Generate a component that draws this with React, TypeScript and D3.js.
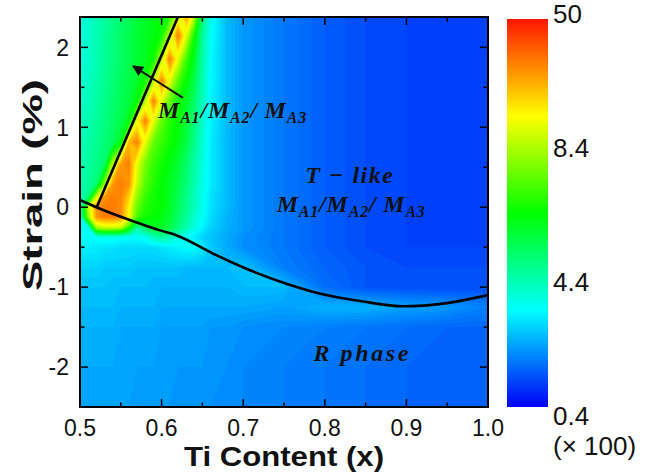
import { useEffect, useRef } from 'react';
import * as d3 from 'd3';

// Ti content of the measured grid columns (x)
const tiGrid = [ 0.50, 0.51, 0.52, 0.53, 0.54, 0.55, 0.56, 0.57, 0.58, 0.59, 0.60, 0.61, 0.62, 0.63, 0.64, 0.65, 0.66, 0.68, 0.70, 0.75, 0.80, 0.85, 0.90, 0.95, 1.00 ];

// strain (%) of the grid rows, bottom to top
const strainGrid = [ -2.5, -2.0, -1.5, -1.25, -1.0, -0.75, -0.5, -0.375, -0.25, -0.125, 0, 0.125, 0.29, 0.54, 0.81, 1.08, 1.33, 1.58, 1.85, 2.15, 2.45 ];

// intensity (x 100), one row per strain value
const intensity = [
  [ 2.3, 2.3, 2.3, 2.3, 2.3, 2.3, 2.3, 2.2, 2.2, 2.2, 2.2, 2.2, 2.1, 2.1, 2.1, 2.1, 2.1, 2.0, 2.0, 1.9, 1.8, 1.7, 1.6, 1.5, 1.5 ],
  [ 2.4, 2.4, 2.4, 2.4, 2.4, 2.3, 2.3, 2.3, 2.3, 2.3, 2.2, 2.2, 2.2, 2.2, 2.2, 2.2, 2.1, 2.1, 2.0, 1.9, 1.8, 1.7, 1.6, 1.5, 1.5 ],
  [ 2.5, 2.5, 2.5, 2.5, 2.5, 2.4, 2.4, 2.4, 2.4, 2.4, 2.3, 2.3, 2.3, 2.3, 2.3, 2.3, 2.2, 2.2, 2.1, 2.0, 1.9, 1.8, 1.7, 1.6, 1.6 ],
  [ 2.6, 2.6, 2.6, 2.6, 2.6, 2.5, 2.5, 2.5, 2.5, 2.5, 2.4, 2.4, 2.4, 2.4, 2.4, 2.4, 2.4, 2.4, 2.4, 2.3, 2.5, 2.5, 2.3, 2.2, 1.9 ],
  [ 2.7, 2.7, 2.7, 2.7, 2.6, 2.6, 2.6, 2.6, 2.6, 2.5, 2.5, 2.5, 2.5, 2.5, 2.5, 2.5, 2.5, 2.5, 2.6, 2.6, 1.7, 1.4, 1.3, 1.3, 1.3 ],
  [ 2.9, 2.9, 2.9, 2.8, 2.8, 2.8, 2.8, 2.7, 2.7, 2.7, 2.7, 2.7, 2.7, 2.6, 2.6, 2.6, 2.6, 2.6, 2.7, 1.9, 1.6, 1.4, 1.3, 1.3, 1.3 ],
  [ 3.2, 3.2, 3.2, 3.1, 3.1, 3.0, 3.0, 3.0, 3.0, 3.0, 3.1, 3.2, 3.3, 3.4, 3.4, 3.2, 2.8, 2.4, 2.1, 1.8, 1.5, 1.3, 1.2, 1.2, 1.2 ],
  [ 3.4, 3.4, 3.5, 3.6, 3.6, 3.5, 3.4, 3.4, 3.6, 4.2, 4.6, 4.2, 3.8, 3.5, 3.2, 2.9, 2.7, 2.4, 2.1, 1.8, 1.5, 1.3, 1.2, 1.2, 1.2 ],
  [ 3.4, 3.6, 8.4, 14, 14, 12, 7.0, 4.6, 5.4, 6.0, 6.0, 5.6, 5.0, 4.4, 3.8, 3.3, 2.9, 2.5, 2.2, 1.8, 1.5, 1.3, 1.2, 1.2, 1.2 ],
  [ 3.5, 8.0, 33, 36, 36, 34, 18, 7.2, 6.6, 6.4, 6.2, 5.8, 5.2, 4.6, 4.0, 3.5, 3.0, 2.5, 2.2, 1.8, 1.5, 1.3, 1.2, 1.2, 1.2 ],
  [ 3.8, 10, 33, 36, 36, 35, 20, 7.6, 6.8, 6.6, 6.4, 6.0, 5.4, 4.8, 4.2, 3.6, 3.1, 2.6, 2.2, 1.8, 1.5, 1.3, 1.2, 1.2, 1.2 ],
  [ 4.1, 5.0, 14, 33, 36, 35, 25, 8.0, 7.0, 6.6, 6.4, 6.0, 5.4, 4.8, 4.2, 3.6, 3.1, 2.6, 2.2, 1.8, 1.5, 1.3, 1.2, 1.2, 1.2 ],
  [ 4.3, 4.6, 5.0, 8.0, 32, 36, 33, 12, 7.4, 6.8, 6.4, 6.0, 5.6, 5.0, 4.4, 3.7, 3.2, 2.6, 2.2, 1.8, 1.5, 1.3, 1.2, 1.2, 1.2 ],
  [ 4.3, 4.5, 4.8, 5.2, 9.0, 32, 36, 16, 7.8, 7.0, 6.6, 6.2, 5.8, 5.2, 4.5, 3.8, 3.2, 2.6, 2.2, 1.8, 1.5, 1.3, 1.2, 1.2, 1.2 ],
  [ 4.2, 4.4, 4.7, 5.0, 5.3, 6.2, 28, 36, 16, 7.6, 7.0, 6.6, 6.2, 5.6, 4.8, 3.9, 3.2, 2.6, 2.2, 1.8, 1.5, 1.3, 1.2, 1.2, 1.2 ],
  [ 4.1, 4.3, 4.6, 4.9, 5.2, 5.5, 6.2, 18, 36, 16, 7.6, 6.8, 6.4, 5.8, 5.0, 4.0, 3.3, 2.6, 2.2, 1.8, 1.5, 1.3, 1.2, 1.2, 1.2 ],
  [ 4.0, 4.2, 4.5, 4.8, 5.1, 5.4, 5.7, 6.4, 10, 36, 16, 7.6, 6.6, 6.0, 5.2, 4.2, 3.3, 2.6, 2.2, 1.8, 1.5, 1.3, 1.2, 1.2, 1.2 ],
  [ 3.9, 4.1, 4.4, 4.7, 5.0, 5.3, 5.6, 5.9, 6.6, 10, 36, 16, 7.4, 6.4, 5.6, 4.3, 3.4, 2.6, 2.2, 1.8, 1.5, 1.3, 1.2, 1.2, 1.2 ],
  [ 3.8, 4.0, 4.3, 4.6, 4.9, 5.2, 5.5, 5.8, 6.0, 6.6, 10, 36, 16, 7.2, 6.0, 4.4, 3.4, 2.6, 2.2, 1.8, 1.5, 1.3, 1.2, 1.2, 1.2 ],
  [ 3.8, 4.0, 4.3, 4.6, 4.9, 5.2, 5.5, 5.8, 6.0, 6.2, 6.6, 10, 36, 16, 6.6, 4.6, 3.5, 2.6, 2.2, 1.8, 1.5, 1.3, 1.2, 1.2, 1.2 ],
  [ 3.8, 4.0, 4.2, 4.5, 4.8, 5.1, 5.4, 5.7, 5.9, 6.1, 6.3, 6.5, 10, 36, 16, 5.2, 3.6, 2.6, 2.2, 1.8, 1.5, 1.3, 1.2, 1.2, 1.2 ],
];

// phase boundaries (Ti content, strain %)
const mBoundary = [ [ 0.5205, 0.0 ], [ 0.62, 2.38 ] ];
const rBoundary = [
  [ 0.50, 0.09 ], [ 0.52, 0.0 ], [ 0.561, -0.16 ], [ 0.598, -0.29 ], [ 0.618, -0.35 ],
  [ 0.663, -0.58 ], [ 0.704, -0.77 ], [ 0.745, -0.93 ], [ 0.786, -1.06 ], [ 0.847, -1.18 ],
  [ 0.896, -1.24 ], [ 0.949, -1.20 ], [ 1.00, -1.10 ],
];

const xTicks = [ 0.5, 0.6, 0.7, 0.8, 0.9, 1.0 ];
const xMinor = [ 0.55, 0.65, 0.75, 0.85, 0.95 ];
const yTicks = [ -2, -1, 0, 1, 2 ];
const yMinor = [ -1.5, -0.5, 0.5, 1.5 ];
const colorTicks = [ 0.4, 4.4, 8.4, 50 ];

const SANS = '"Liberation Sans", Arial, sans-serif';
const SERIF = '"Liberation Serif", "Times New Roman", serif';

export default function App() {
  const svgRef = useRef<SVGSVGElement>( null );

  useEffect( () => {
    if ( !svgRef.current ) return;
    const svg = d3.select( svgRef.current );
    svg.selectAll( '*' ).remove();

    const x = d3.scaleLinear().domain( [ 0.5, 1.0 ] ).range( [ 80, 488 ] );
    const y = d3.scaleLinear().domain( [ -2.5, 2.38 ] ).range( [ 407, 17 ] );

    // colour bar mapping: labels are evenly spaced on the bar
    const norm = d3.scaleLinear().domain( colorTicks ).range( [ 0, 1 / 3, 2 / 3, 1 ] ).clamp( true );
    const rainbow = d3.scaleLinear<string>()
      .domain( [ 0, 0.25, 0.5, 0.75, 1 ] )
      .range( [ '#0000f8', '#00ffff', '#00ff00', '#ffff00', '#ff1500' ] )
      .interpolate( d3.interpolateRgb );

    const defs = svg.append( 'defs' );
    defs.append( 'clipPath' ).attr( 'id', 'plot-clip' )
      .append( 'rect' ).attr( 'x', 80 ).attr( 'y', 17 ).attr( 'width', 408 ).attr( 'height', 390 );

    const grad = defs.append( 'linearGradient' ).attr( 'id', 'cbar' )
      .attr( 'x1', 0 ).attr( 'y1', 1 ).attr( 'x2', 0 ).attr( 'y2', 0 );
    d3.range( 0, 1.0001, 0.05 ).forEach( t => {
      grad.append( 'stop' ).attr( 'offset', t ).attr( 'stop-color', rainbow( t ) );
    } );

    defs.append( 'marker' ).attr( 'id', 'arrow' )
      .attr( 'viewBox', '0 0 10 10' ).attr( 'refX', 9 ).attr( 'refY', 5 )
      .attr( 'markerUnits', 'userSpaceOnUse' )
      .attr( 'markerWidth', 13 ).attr( 'markerHeight', 11 ).attr( 'orient', 'auto' )
      .append( 'path' ).attr( 'd', 'M0,0L10,5L0,10z' ).attr( 'fill', '#111' );

    // heat map as filled contour bands
    const nx = tiGrid.length;
    const ny = strainGrid.length;
    const values = intensity.flat().map( v => norm( v ) );
    const step = 1 / 120;
    const contours = d3.contours().size( [ nx, ny ] ).thresholds( d3.range( 0, 1, step ) )( values );
    const gx = d3.scaleLinear().domain( d3.range( nx ) ).range( tiGrid );
    const gy = d3.scaleLinear().domain( d3.range( ny ) ).range( strainGrid );
    const path = d3.geoPath( d3.geoTransform( {
      point( cx: number, cy: number ) {
        ( this as any ).stream.point( x( gx( cx - 0.5 ) ), y( gy( cy - 0.5 ) ) );
      },
    } ) );

    const plot = svg.append( 'g' ).attr( 'clip-path', 'url(#plot-clip)' );
    plot.selectAll( 'path.band' )
      .data( contours )
      .join( 'path' )
      .attr( 'class', 'band' )
      .attr( 'd', d => path( d as any ) )
      .attr( 'fill', d => rainbow( Math.min( 1, d.value + step / 2 ) ) );

    // phase boundaries
    const line = d3.line<number[]>().x( d => x( d[ 0 ] ) ).y( d => y( d[ 1 ] ) );
    plot.append( 'path' ).attr( 'd', line( mBoundary ) )
      .attr( 'fill', 'none' ).attr( 'stroke', '#000' ).attr( 'stroke-width', 2.6 );
    plot.append( 'path' ).attr( 'd', line.curve( d3.curveMonotoneX )( rBoundary ) )
      .attr( 'fill', 'none' ).attr( 'stroke', '#000' ).attr( 'stroke-width', 2.6 );

    // frame and inward ticks on all sides
    const axes = svg.append( 'g' ).attr( 'stroke', '#000' );
    axes.append( 'rect' ).attr( 'x', 80 ).attr( 'y', 17 ).attr( 'width', 408 ).attr( 'height', 390 )
      .attr( 'fill', 'none' ).attr( 'stroke-width', 2 );
    const xt = [ ...xTicks.map( v => [ v, 8 ] ), ...xMinor.map( v => [ v, 4.5 ] ) ];
    const yt = [ ...yTicks.map( v => [ v, 8 ] ), ...yMinor.map( v => [ v, 4.5 ] ) ];
    xt.forEach( ( [ v, len ] ) => {
      axes.append( 'line' ).attr( 'x1', x( v ) ).attr( 'x2', x( v ) ).attr( 'y1', 407 ).attr( 'y2', 407 - len ).attr( 'stroke-width', 1.5 );
      axes.append( 'line' ).attr( 'x1', x( v ) ).attr( 'x2', x( v ) ).attr( 'y1', 17 ).attr( 'y2', 17 + len ).attr( 'stroke-width', 1.5 );
    } );
    yt.forEach( ( [ v, len ] ) => {
      axes.append( 'line' ).attr( 'y1', y( v ) ).attr( 'y2', y( v ) ).attr( 'x1', 80 ).attr( 'x2', 80 + len ).attr( 'stroke-width', 1.5 );
      axes.append( 'line' ).attr( 'y1', y( v ) ).attr( 'y2', y( v ) ).attr( 'x1', 488 ).attr( 'x2', 488 - len ).attr( 'stroke-width', 1.5 );
    } );

    const labels = svg.append( 'g' ).attr( 'font-family', SANS ).attr( 'fill', '#111' );
    labels.selectAll( 'text.xt' ).data( xTicks ).join( 'text' )
      .attr( 'x', d => x( d ) ).attr( 'y', 436 ).attr( 'text-anchor', 'middle' )
      .attr( 'font-size', 23 ).text( d => d.toFixed( 1 ) );
    labels.selectAll( 'text.yt' ).data( yTicks ).join( 'text' )
      .attr( 'x', 69 ).attr( 'y', d => y( d ) ).attr( 'dy', '0.36em' ).attr( 'text-anchor', 'end' )
      .attr( 'font-size', 23 ).text( d => String( d ) );

    labels.append( 'text' ).attr( 'x', 284 ).attr( 'y', 466 ).attr( 'text-anchor', 'middle' )
      .attr( 'font-size', 27 ).attr( 'font-weight', 'bold' )
      .attr( 'textLength', 200 ).attr( 'lengthAdjust', 'spacingAndGlyphs' )
      .text( 'Ti Content (x)' );
    labels.append( 'text' ).attr( 'transform', 'translate(42,185) rotate(-90)' ).attr( 'text-anchor', 'middle' )
      .attr( 'font-size', 28 ).attr( 'font-weight', 'bold' )
      .attr( 'textLength', 212 ).attr( 'lengthAdjust', 'spacingAndGlyphs' )
      .text( 'Strain (%)' );

    // colour bar
    svg.append( 'rect' ).attr( 'x', 507 ).attr( 'y', 19 ).attr( 'width', 41 ).attr( 'height', 388 )
      .attr( 'fill', 'url(#cbar)' );
    const cbLabel = d3.scaleLinear().domain( [ 0, 1 ] ).range( [ 416, 14 ] );
    labels.selectAll( 'text.cb' ).data( colorTicks ).join( 'text' )
      .attr( 'x', 553 ).attr( 'y', d => cbLabel( norm( d ) ) ).attr( 'dy', '0.36em' )
      .attr( 'font-size', 26 ).text( d => String( d ) );
    labels.append( 'text' ).attr( 'x', 553 ).attr( 'y', 455 ).attr( 'font-size', 26 ).text( '(\u00d7 100)' );

    // phase annotations
    const notes = svg.append( 'g' ).attr( 'font-family', SERIF ).attr( 'font-weight', 'bold' )
      .attr( 'font-style', 'italic' ).attr( 'fill', '#111' );
    const phaseLabel = ( tx: number, ty: number ) => {
      const t = notes.append( 'text' ).attr( 'x', x( tx ) ).attr( 'y', y( ty ) )
        .attr( 'font-size', 24 ).attr( 'letter-spacing', 0.8 );
      const parts: Array<[ string, boolean ]> = [ [ 'M', false ], [ 'A1', true ], [ '/M', false ], [ 'A2', true ], [ '/ M', false ], [ 'A3', true ] ];
      parts.forEach( ( [ s, sub ] ) => {
        t.append( 'tspan' ).attr( 'font-size', sub ? 16 : 24 ).attr( 'dy', sub ? 5 : -5 ).text( s );
      } );
      t.select( 'tspan' ).attr( 'dy', 0 );
    };
    phaseLabel( 0.5956, 1.116 );
    phaseLabel( 0.741, -0.06 );
    notes.append( 'text' ).attr( 'x', x( 0.776 ) ).attr( 'y', y( 0.297 ) )
      .attr( 'font-size', 24 ).attr( 'letter-spacing', 1.5 ).text( 'T \u2212 like' );
    notes.append( 'text' ).attr( 'x', x( 0.786 ) ).attr( 'y', y( -1.924 ) )
      .attr( 'font-size', 24 ).attr( 'letter-spacing', 2.6 ).text( 'R phase' );

    svg.append( 'line' )
      .attr( 'x1', x( 0.6262 ) ).attr( 'y1', y( 1.368 ) )
      .attr( 'x2', x( 0.565 ) ).attr( 'y2', y( 1.767 ) )
      .attr( 'stroke', '#111' ).attr( 'stroke-width', 2 )
      .attr( 'marker-end', 'url(#arrow)' );
  }, [] );

  return (
    <svg
      ref={ svgRef }
      width={ 660 }
      height={ 473 }
      style={ { position: 'absolute', left: 0, top: 0, background: '#fff' } }
    />
  );
}
